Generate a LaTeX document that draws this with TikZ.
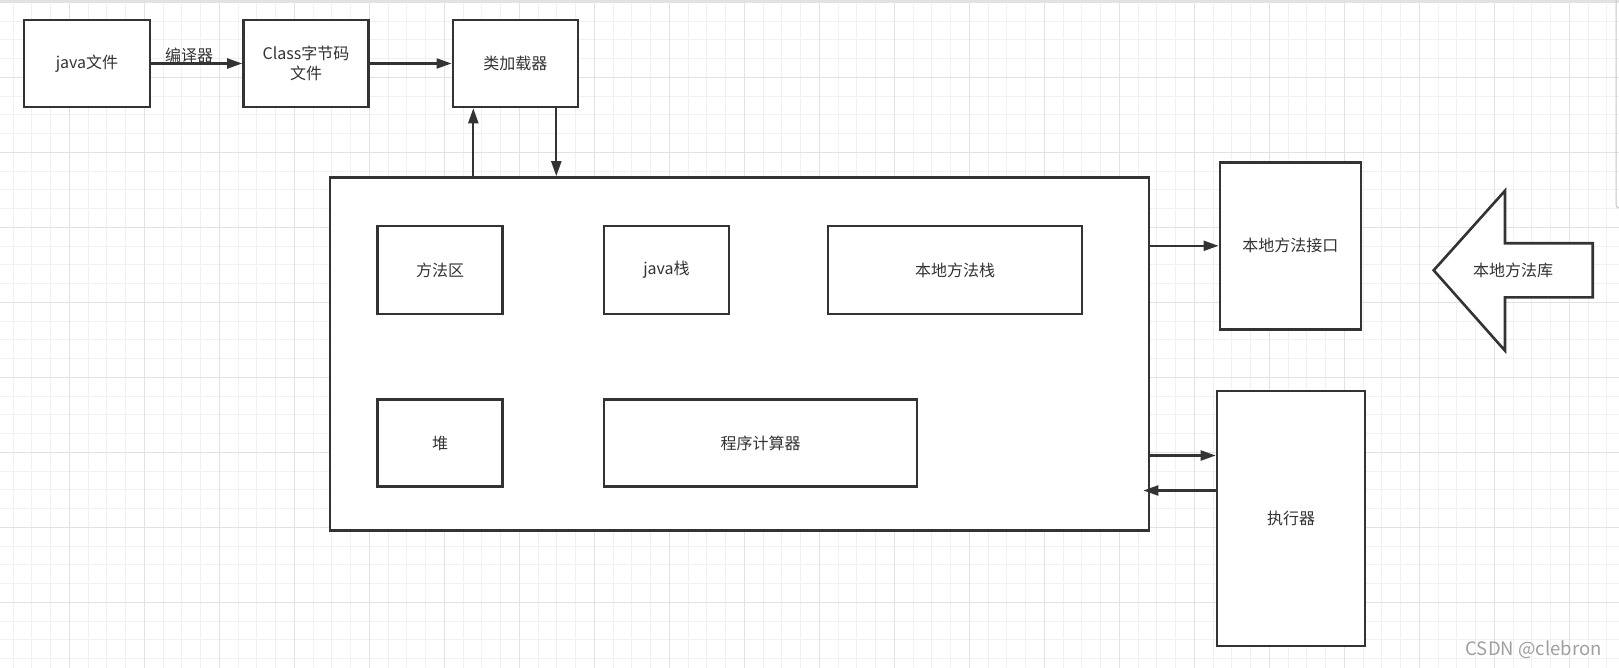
\documentclass[tikz,border=0pt]{standalone}
\usepackage{fontspec}
\setmainfont{Noto Sans CJK SC}
\usepackage{tikz}
\usetikzlibrary{arrows.meta,positioning,calc}

\definecolor{ink}{HTML}{333333}
\definecolor{gridminor}{HTML}{F1F1F1}
\definecolor{gridmajor}{HTML}{E2E2E2}

\begin{document}
\begin{tikzpicture}[
  x=1pt, y=-1pt,
  font=\fontsize{16}{20}\selectfont,
  box/.style={draw=ink, line width=2.6pt, rectangle, fill=white, text=ink, align=center, inner sep=0pt},
  arr/.style={-{Triangle[length=15pt,width=10pt]}, line width=2.2pt, draw=ink},
  lbl/.style={text=ink, inner sep=0pt},
  minorline/.style={gridminor, line width=1pt},
  majorline/.style={gridmajor, line width=1pt}
]
% background and grid
\useasboundingbox (0,0) rectangle (1619,668);
\fill[white] (0,0) rectangle (1619,668);
\foreach \i in {0,...,86} \draw[minorline] (13.05+18.75*\i,0) -- (13.05+18.75*\i,668);
\foreach \j in {0,...,35} \draw[minorline] (0,2.3+18.75*\j) -- (1619,2.3+18.75*\j);
\foreach \i in {3,7,...,87} \draw[majorline] (13.05+18.75*\i,0) -- (13.05+18.75*\i,668);
\foreach \j in {0,4,...,36} \draw[majorline] (0,2.3+18.75*\j) -- (1619,2.3+18.75*\j);
\fill[gridmajor] (0,0) rectangle (1619,2.5);
\draw[gray!45, line width=1pt, rounded corners=3pt] (1616,0) -- (1616,208) -- (1625,208);

% top row
\node[box, minimum width=126, minimum height=87] (java) at (87,63.5) {java文件};
\node[box, minimum width=125, minimum height=87] (class) at (306,63.5) {Class字节码\\文件};
\node[box, minimum width=125, minimum height=87] (loader) at (515.3,63.5) {类加载器};
\node[lbl] (compiler) at (189,55) {编译器};

\draw[arr] (java) -- (class);
\draw[arr] (class) -- (loader);

% runtime area
\node[box, minimum width=819, minimum height=353] (vm) at (739.5,354) {};
\node[box, minimum width=125, minimum height=88] (method) at (440,270) {方法区};
\node[box, minimum width=125, minimum height=88] (jstack) at (666.5,270) {java栈};
\node[box, minimum width=254, minimum height=88] (nstack) at (955,270) {本地方法栈};
\node[box, minimum width=125, minimum height=87] (heap) at (440,443) {堆};
\node[box, minimum width=313, minimum height=87] (pc) at (760.5,443) {程序计算器};

\draw[arr] ([xshift=-42pt]loader.south |- vm.north) -- ([xshift=-42pt]loader.south);
\draw[arr] ([xshift=41pt]loader.south) -- ([xshift=41pt]loader.south |- vm.north);

% right side
\node[box, minimum width=141, minimum height=167] (nif) at (1290.3,245.8) {本地方法接口};
\node[box, minimum width=148, minimum height=255] (exec) at (1291,518.5) {执行器};

\draw[box] (1592.7,243.3) -- (1505,243.3) -- (1505,190.7) -- (1433.7,270.3)
  -- (1505,350.7) -- (1505,297.3) -- (1592.7,297.3) -- cycle;
\node[lbl] (nlib) at (1513,270) {本地方法库};

\draw[arr] (vm.east |- nif) -- (nif);
\draw[arr] ($(vm.east |- exec.west)+(0pt,63pt)$) -- ($(exec.west)+(0pt,63pt)$);
\draw[arr] ($(exec.west)+(0pt,28pt)$) -- ($(vm.east |- exec.west)+(-7pt,28pt)$);

\node[text=gray!75, inner sep=0pt, font=\fontsize{18.5}{20}\selectfont] (mark) at (1533.6,650) {CSDN @clebron};
\end{tikzpicture}
\end{document}
